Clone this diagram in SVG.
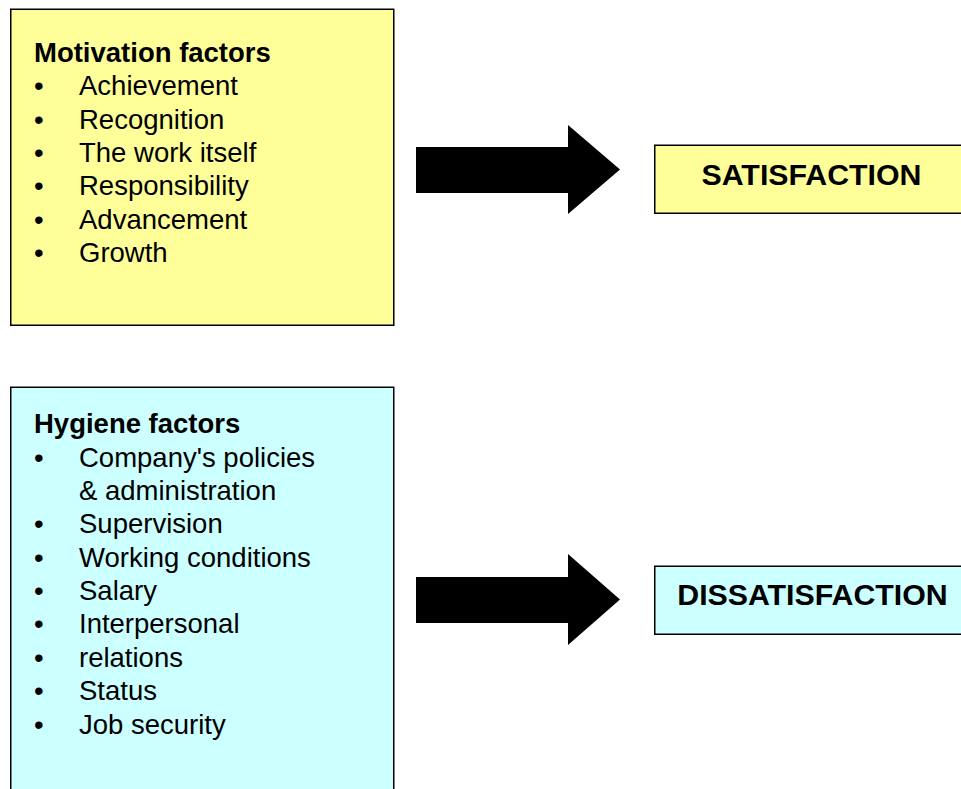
<svg xmlns="http://www.w3.org/2000/svg" width="961" height="789" viewBox="0 0 961 789">
  <style>
    .box { stroke: #000; stroke-width: 1.5; }
    .yellow { fill: #ffff99; }
    .cyan { fill: #ccffff; }
    .head { font-family: "Liberation Sans", Arial, sans-serif; font-weight: bold; font-size: 27.5px; fill: #000; }
    .item { font-family: "Liberation Sans", Arial, sans-serif; font-size: 27.5px; fill: #000; }
    .result { font-family: "Liberation Sans", Arial, sans-serif; font-weight: bold; font-size: 30.3px; fill: #000; text-anchor: middle; }
    .arrow { fill: #000; }
  </style>
  <rect width="961" height="789" fill="#fff"/>

  <!-- Motivation factors -->
  <g id="motivation">
    <rect class="box yellow" x="10.75" y="9.25" width="383" height="316"/>
    <text class="head" x="34" y="62">Motivation factors</text>
    <g class="item">
      <text x="34" y="95">•</text><text x="79" y="95">Achievement</text>
      <text x="34" y="129">•</text><text x="79" y="129">Recognition</text>
      <text x="34" y="162">•</text><text x="79" y="162">The work itself</text>
      <text x="34" y="195">•</text><text x="79" y="195">Responsibility</text>
      <text x="34" y="229">•</text><text x="79" y="229">Advancement</text>
      <text x="34" y="262">•</text><text x="79" y="262">Growth</text>
    </g>
  </g>

  <!-- Hygiene factors -->
  <g id="hygiene">
    <rect class="box cyan" x="10.75" y="387.25" width="383" height="420"/>
    <text class="head" x="34" y="433">Hygiene factors</text>
    <g class="item">
      <text x="34" y="467">•</text><text x="79" y="467">Company's policies</text>
      <text x="79" y="500">&amp; administration</text>
      <text x="34" y="533">•</text><text x="79" y="533">Supervision</text>
      <text x="34" y="567">•</text><text x="79" y="567">Working conditions</text>
      <text x="34" y="600">•</text><text x="79" y="600">Salary</text>
      <text x="34" y="633">•</text><text x="79" y="633">Interpersonal</text>
      <text x="34" y="667">•</text><text x="79" y="667">relations</text>
      <text x="34" y="700">•</text><text x="79" y="700">Status</text>
      <text x="34" y="734">•</text><text x="79" y="734">Job security</text>
    </g>
  </g>

  <!-- Outcomes -->
  <g id="satisfaction">
    <rect class="box yellow" x="654.75" y="145.25" width="320" height="68"/>
    <text class="result" x="811.5" y="185">SATISFACTION</text>
  </g>
  <g id="dissatisfaction">
    <rect class="box cyan" x="654.75" y="566.25" width="320" height="68"/>
    <text class="result" x="812.5" y="605">DISSATISFACTION</text>
  </g>

  <!-- Block arrows -->
  <g id="connectors">
    <polygon class="arrow" points="416,147 568,147 568,125 620,169.5 568,214 568,193 416,193"/>
    <polygon class="arrow" points="416,577 568,577 568,554 620,599.5 568,645 568,623 416,623"/>
  </g>
</svg>
